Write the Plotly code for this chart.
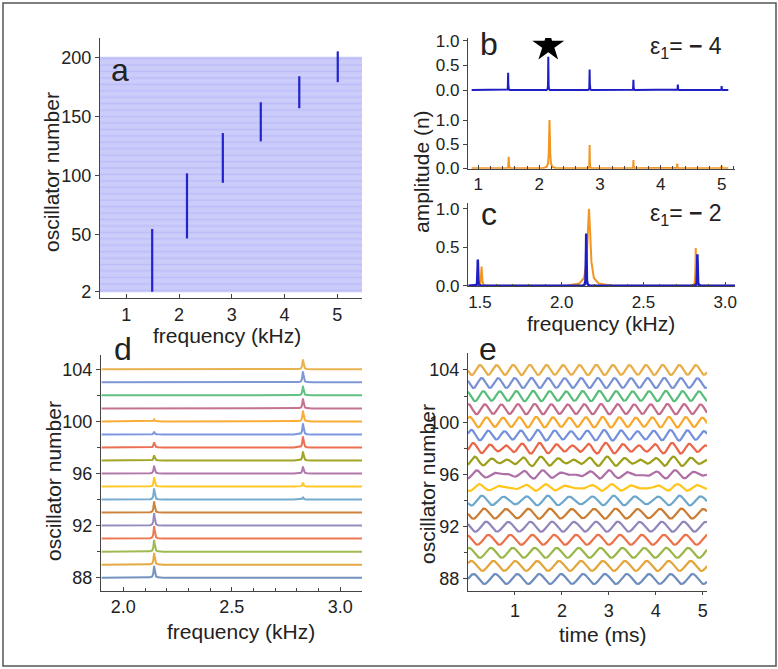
import numpy as np
import plotly.graph_objects as go

W, H = 778, 669
FONT = "Liberation Sans, Arial, sans-serif"
AX = "#444"
TXT = "#222"

# ---------------- data ----------------
# panel a: oscillators 2..200, dark streaks where each oscillator's spectrum peaks
osc_a = list(range(2, 201))
a_freq_span = [0.5, 5.47]
streak_freq = [1.49, 2.15, 2.83, 3.55, 4.28, 5.01]
streak_lo = [2, 47, 94, 129, 157, 179]
streak_hi = [55, 102, 136, 162, 184, 205]

# panel b (eps1 = -4)
b_freq_span = [0.89, 5.11]
b_freq_blue = [1.49, 2.15, 2.83, 3.55, 4.28, 5.00]
b_amp_blue = [0.35, 0.68, 0.42, 0.21, 0.11, 0.08]
b_wid_blue = [0.002, 0.002, 0.002, 0.002, 0.002, 0.002]
b_freq_orange = [1.50, 2.17, 2.83, 3.55, 4.27, 5.00]
b_amp_orange = [0.24, 1.00, 0.48, 0.17, 0.10, 0.055]
b_wid_orange = [0.003, 0.008, 0.002, 0.002, 0.002, 0.002]
star_freq, star_amp = [2.15], [0.90]

# panel c (eps1 = -2)
c_freq_span = [1.43, 3.06]
c_freq_blue = [1.487, 2.15, 2.83]
c_amp_blue = [0.34, 0.68, 0.41]
c_wid_blue = [0.0015, 0.0015, 0.0015]
c_freq_orange = [1.51, 2.167, 2.82]
c_amp_orange = [0.25, 1.00, 0.49]
c_wid_orange = [0.003, 0.010, 0.002]

# panel d: spectra of oscillators 88..104
osc_d = list(range(88, 105))
d_freq_span = [1.90, 3.10]
d_peak_freq = [2.142, 2.828]
d_h215 = [0.90, 0.90, 0.90, 0.95, 0.95, 0.85, 0.85, 0.72, 0.60, 0.40, 0.40, 0.20, 0.15, 0.05, 0.05, 0.03, 0.03]
d_h283 = [0.00, 0.00, 0.00, 0.00, 0.02, 0.05, 0.20, 0.30, 0.55, 0.70, 0.85, 0.85, 0.82, 0.77, 0.72, 0.85, 0.77]
d_width = 0.003

# panel e: time traces, mode amplitudes / phases per oscillator
e_time_span = [0.0, 5.09]
e_a215 = [0.38, 0.38, 0.38, 0.38, 0.38, 0.37, 0.33, 0.17, 0.17, 0.12, 0.10, 0.05, 0.03, 0.02, 0.02, 0.01, 0.01]
e_a283 = [0.00, 0.00, 0.00, 0.00, 0.01, 0.02, 0.05, 0.10, 0.16, 0.25, 0.32, 0.36, 0.38, 0.38, 0.38, 0.38, 0.38]
e_ph215 = [0.0, 0.6, 1.3, 2.0, 2.6, 3.2, 3.8, 4.4, 5.0, 5.6, 6.0, 0.4, 0.8, 1.2, 1.6, 2.0, 2.4]
e_ph283 = [0.0, 0.5, 1.0, 1.5, 2.0, 2.5, 3.0, 3.9, 4.9, 5.5, 6.0, 0.3, 0.9, 1.5, 2.1, 2.7, 3.3]

palette = ["#5E81B5", "#E19C24", "#8FB032", "#EB6235", "#8778B3", "#C56E1A",
           "#5D9EC7", "#FFBF00", "#A5609D", "#929600", "#E95536", "#6685D9",
           "#F89F13", "#BC5B80", "#47B66D", "#6A86D0", "#E6A532"]

BLUE = "rgb(30,30,195)"
ORANGE = "rgb(242,150,35)"

# peak drawing profile (relative offsets in widths, relative heights)
PROF_OFF = [-14, -6, -3, -1.5, -0.6, 0, 0.6, 1.5, 3, 6, 14]
PROF_VAL = [0, 0.027, 0.1, 0.31, 0.74, 1, 0.74, 0.31, 0.1, 0.027, 0]


def spectrum(span, freqs, amps, widths, base=0.0):
    xs, ys = [span[0]], [base]
    for f, a, w in sorted(zip(freqs, amps, widths)):
        for o, v in zip(PROF_OFF, PROF_VAL):
            xs.append(f + o * w)
            ys.append(base + a * v)
    xs.append(span[1])
    ys.append(base)
    return xs, ys


fig = go.Figure()

# ---- panel a ----
lx, ly = [], []
for n in osc_a:
    lx += [a_freq_span[0], a_freq_span[1], None]
    ly += [n, n, None]
fig.add_trace(go.Scatter(x=lx, y=ly, mode="lines", line=dict(color="rgba(95,95,240,0.42)", width=1),
                         xaxis="x", yaxis="y", hoverinfo="skip"))
sx, sy = [], []
for f, lo, hi in zip(streak_freq, streak_lo, streak_hi):
    sx += [f, f, None]
    sy += [lo, hi, None]
fig.add_trace(go.Scatter(x=sx, y=sy, mode="lines", line=dict(color="rgb(35,35,205)", width=2.2),
                         xaxis="x", yaxis="y"))

# ---- panel b ----
x, y = spectrum(b_freq_span, b_freq_blue, b_amp_blue, b_wid_blue)
fig.add_trace(go.Scatter(x=x, y=y, mode="lines", line=dict(color=BLUE, width=2), xaxis="x2", yaxis="y2"))
fig.add_trace(go.Scatter(x=star_freq, y=star_amp, mode="markers",
                         marker=dict(symbol="star", size=24, color="black"), xaxis="x2", yaxis="y2"))
x, y = spectrum(b_freq_span, b_freq_orange, b_amp_orange, b_wid_orange)
fig.add_trace(go.Scatter(x=x, y=y, mode="lines", line=dict(color=ORANGE, width=2), xaxis="x3", yaxis="y3"))

# ---- panel c ----
x, y = spectrum(c_freq_span, c_freq_orange, c_amp_orange, c_wid_orange)
fig.add_trace(go.Scatter(x=x, y=y, mode="lines", line=dict(color=ORANGE, width=2), xaxis="x4", yaxis="y4"))
x, y = spectrum(c_freq_span, c_freq_blue, c_amp_blue, c_wid_blue)
fig.add_trace(go.Scatter(x=x, y=y, mode="lines", line=dict(color=BLUE, width=2.5), xaxis="x4", yaxis="y4"))

# ---- panel d ----
for i, n in enumerate(osc_d):
    x, y = spectrum(d_freq_span, d_peak_freq, [d_h215[i], d_h283[i]], [d_width, d_width], base=n)
    fig.add_trace(go.Scatter(x=x, y=y, mode="lines", line=dict(color=palette[i], width=2),
                             opacity=0.85, xaxis="x5", yaxis="y5"))

# ---- panel e ----
t = np.linspace(e_time_span[0], e_time_span[1], 900)
F1, F2 = d_peak_freq
for i, n in enumerate(osc_d):
    yy = n + e_a215[i] * np.sin(2 * np.pi * F1 * t + e_ph215[i]) + e_a283[i] * np.sin(2 * np.pi * F2 * t + e_ph283[i])
    fig.add_trace(go.Scatter(x=t, y=yy, mode="lines", line=dict(color=palette[i], width=2.2),
                             opacity=0.9, xaxis="x6", yaxis="y6"))


def px(v):
    return v / W


def py(v):
    return 1 - v / H


def axis(**kw):
    d = dict(showline=True, linecolor=AX, linewidth=1.3, showgrid=False, zeroline=False,
             ticks="outside", ticklen=4, tickwidth=1.2, tickcolor=AX, automargin=False,
             tickfont=dict(size=18, color=TXT, family=FONT))
    d.update(kw)
    return d


minor_in = lambda dt: dict(dtick=dt, ticks="inside", ticklen=2.5, tickwidth=1, tickcolor=AX)
yb_ticks = dict(tickvals=[0, 0.5, 1.0], ticktext=["0.0", "0.5", "1.0"])
F17 = dict(size=17, color=TXT, family=FONT)

layout = dict(
    width=W, height=H, margin=dict(l=0, r=0, t=0, b=0, autoexpand=False),
    paper_bgcolor="white", plot_bgcolor="rgba(0,0,0,0)", showlegend=False,
    font=dict(family=FONT, color=TXT),
    # a
    xaxis=axis(domain=[px(100), px(362)], range=[0.5, 5.47], tickvals=[1, 2, 3, 4, 5], ticks="inside", anchor="y"),
    yaxis=axis(domain=[py(298), py(38)], range=[-3.3, 216.3], tickvals=[2, 50, 100, 150, 200], anchor="x"),
    # b blue
    xaxis2=dict(domain=[px(468), px(735)], range=[0.83, 5.22], visible=False, anchor="y2"),
    yaxis2=axis(domain=[py(96), py(38)], range=[-0.122, 1.061], anchor="x2", tickfont=F17, **yb_ticks),
    # b orange
    xaxis3=axis(domain=[px(468), px(735)], range=[0.83, 5.22], tickvals=[1, 2, 3, 4, 5], ticks="inside",
                minor=minor_in(0.2), anchor="y3", tickfont=F17),
    yaxis3=axis(domain=[py(168.8), py(96)], range=[-0.01, 1.497], anchor="x3", tickfont=F17, **yb_ticks),
    # c
    xaxis4=axis(domain=[px(468), px(735)], range=[1.427, 3.06], tickvals=[1.5, 2.0, 2.5, 3.0],
                ticktext=["1.5", "2.0", "2.5", "3.0"], ticks="inside", minor=minor_in(0.1), anchor="y4",
                tickfont=F17),
    yaxis4=axis(domain=[py(286.3), py(203)], range=[-0.008, 1.077], anchor="x4", tickfont=F17, **yb_ticks),
    # d
    xaxis5=axis(domain=[px(101), px(362)], range=[1.897, 3.1], tickvals=[2.0, 2.5, 3.0], ticktext=["2.0", "2.5", "3.0"],
                ticks="inside", minor=minor_in(0.1), anchor="y5"),
    yaxis5=axis(domain=[py(590.7), py(355)], range=[87.0, 105.1], tickvals=[88, 92, 96, 100, 104],
                minor=dict(dtick=2, tick0=88, ticks="outside", ticklen=3, tickcolor=AX), anchor="x5"),
    # e
    xaxis6=axis(domain=[px(468), px(707)], range=[0, 5.09], tickvals=[1, 2, 3, 4, 5], ticklen=3, anchor="y6"),
    yaxis6=axis(domain=[py(591), py(352.7)], range=[87.08, 105.32], tickvals=[88, 92, 96, 100, 104],
                minor=dict(dtick=2, tick0=88, ticks="outside", ticklen=3, tickcolor=AX), anchor="x6"),
)
fig.update_layout(**layout)

ann = []


def text(xp, yp, s, size, angle=0, xanchor="center"):
    ann.append(dict(x=px(xp), y=py(yp), xref="paper", yref="paper", text=s, showarrow=False,
                    textangle=angle, xanchor=xanchor, yanchor="middle",
                    font=dict(size=size, color=TXT, family=FONT)))


# axis titles
text(52, 172, "oscillator number", 21, -90)
text(227, 335, "frequency (kHz)", 21)
text(422, 172, "amplitude (n)", 21, -90)
text(601, 323, "frequency (kHz)", 21)
text(53, 481, "oscillator number", 21, -90)
text(241, 631, "frequency (kHz)", 21)
text(427, 484, "oscillator number", 21, -90)
text(603, 634, "time (ms)", 21)
# panel letters
text(120, 70, "a", 32)
text(489, 44, "b", 32)
text(489, 214, "c", 32)
text(123, 349, "d", 32)
text(488, 349, "e", 32)
# epsilon labels
text(648, 47, "ε<sub>1</sub>= <b>−</b> 4", 23, xanchor="left")
text(648, 215, "ε<sub>1</sub>= <b>−</b> 2", 23, xanchor="left")
fig.update_layout(annotations=ann)

# outer frame
fig.add_shape(type="rect", xref="paper", yref="paper", x0=px(3), x1=px(776), y0=py(666), y1=py(3),
              line=dict(color="#555", width=1.5))

fig.write_html(
    "out.html",
    config={"displayModeBar": False},
    post_script="document.body.style.margin='0px';document.body.style.overflow='hidden';"
                "document.documentElement.style.overflow='hidden';",
)
